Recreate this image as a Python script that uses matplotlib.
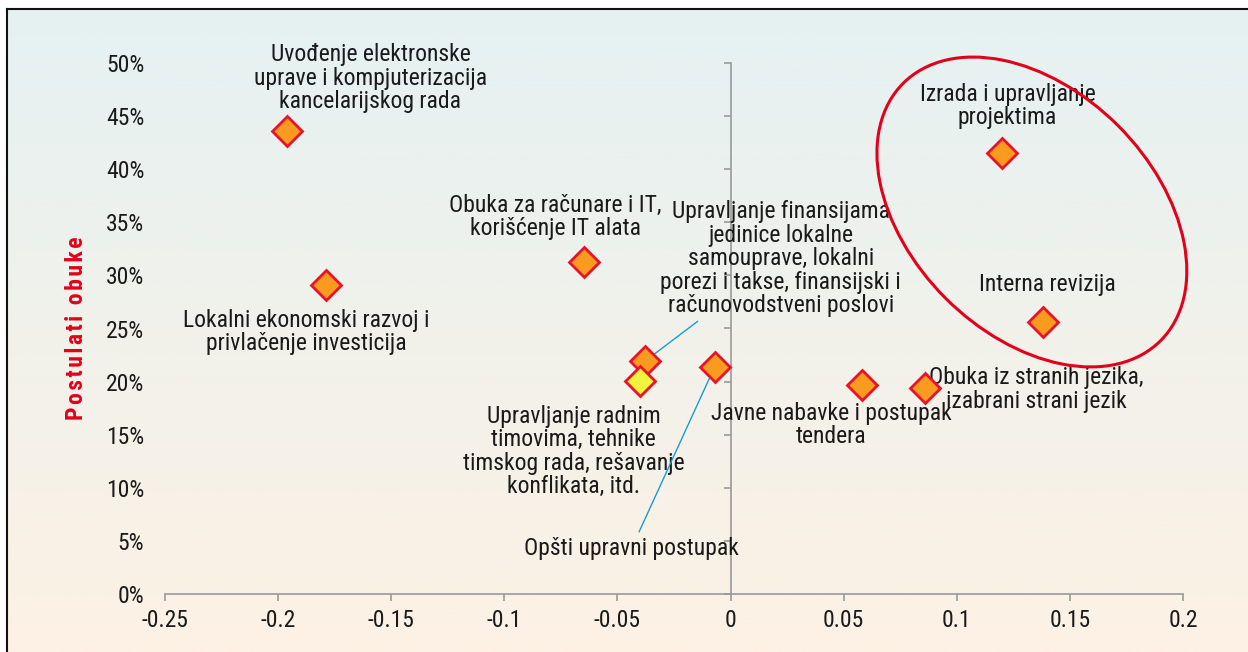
import numpy as np
import matplotlib
matplotlib.use("Agg")
import matplotlib.pyplot as plt
from matplotlib import font_manager, transforms
from matplotlib.patches import Ellipse

# -----------------------------
# Data
# -----------------------------
labels = [
    "Uvođenje elektronske\nuprave i kompjuterizacija\nkancelarijskog rada",
    "Lokalni ekonomski razvoj i\nprivlačenje investicija",
    "Obuka za računare i IT,\nkorišćenje IT alata",
    "Upravljanje finansijama\njedinice lokalne\nsamouprave, lokalni\nporezi i takse, finansijski i\nračunovodstveni poslovi",
    "Upravljanje radnim\ntimovima, tehnike\ntimskog rada, rešavanje\nkonflikata, itd.",
    "Opšti upravni postupak",
    "Javne nabavke i postupak\ntendera",
    "Obuka iz stranih jezika,\nizabrani strani jezik",
    "Izrada i upravljanje\nprojektima",
    "Interna revizija",
]
x_vals = [-0.196, -0.179, -0.065, -0.038, -0.040, -0.007, 0.058, 0.086, 0.120, 0.138]
y_vals = [0.436, 0.291, 0.313, 0.219, 0.201, 0.214, 0.197, 0.194, 0.415, 0.256]
highlight = 4  # yellow marker

x_ticks = [-0.25, -0.2, -0.15, -0.1, -0.05, 0, 0.05, 0.1, 0.15, 0.2]
x_tick_labels = ["-0.25", "-0.2", "-0.15", "-0.1", "-0.05", "0", "0.05", "0.1", "0.15", "0.2"]
y_ticks = [0, 0.05, 0.1, 0.15, 0.2, 0.25, 0.3, 0.35, 0.4, 0.45, 0.5]
y_tick_labels = ["0%", "5%", "10%", "15%", "20%", "25%", "30%", "35%", "40%", "45%", "50%"]

# label offsets (points) and which labels get a leader line
label_offsets = [(60, 38), (-14, -34), (-20, 32), (98, 74), (-48, -51),
                 (-60, -131), (-22, -29), (80, -1), (4, 34), (3, 27)]
leaders = {3, 5}

# -----------------------------
# Fonts
# -----------------------------
names = {f.name for f in font_manager.fontManager.ttflist}
stretch = "normal"
family = "DejaVu Sans"
for cand in ["Liberation Sans Narrow", "Roboto Condensed", "Open Sans Condensed"]:
    if cand in names:
        family = cand
        break
else:
    if any(f.name == "DejaVu Sans" and f.stretch == "condensed" for f in font_manager.fontManager.ttflist):
        stretch = "condensed"
plt.rcParams["font.family"] = [family, "DejaVu Sans"]
plt.rcParams["font.stretch"] = stretch

TXT = "#1a1a1a"
RED = "#e8132a"
ORANGE = "#f99b1f"
YELLOW = "#eef53c"
BLUE = "#1a9ad6"
AXIS = "#9a9a9a"

fig = plt.figure(figsize=(12.48, 6.52), dpi=100)

# background gradient with frame
bg = fig.add_axes([7 / 1248, 0, 1 - 7 / 1248, (652 - 9) / 652], zorder=-1)
top = np.array([0xe5, 0xf1, 0xf2]) / 255
bot = np.array([0xfd, 0xf1, 0xe4]) / 255
t = np.linspace(0, 1, 256)[:, None]
grad = top[None, :] * (1 - t) + bot[None, :] * t
bg.imshow(grad[:, None, :], aspect="auto", extent=[0, 1, 0, 1])
bg.set_xticks([])
bg.set_yticks([])
for s in ["right", "bottom"]:
    bg.spines[s].set_visible(False)
for s in ["left", "top"]:
    bg.spines[s].set_color("#111111")
    bg.spines[s].set_linewidth(1.5)

ax = fig.add_axes([165 / 1248, (652 - 594) / 652, (1183 - 165) / 1248, (594 - 63) / 652])
ax.set_facecolor("none")
ax.set_xlim(-0.25, 0.2)
ax.set_ylim(0, 0.5)

for s in ["top", "right", "left"]:
    ax.spines[s].set_visible(False)
ax.spines["bottom"].set_color(AXIS)
ax.spines["bottom"].set_linewidth(1.2)

ax.set_xticks(x_ticks)
ax.set_xticklabels(x_tick_labels)
ax.set_yticks(y_ticks)
ax.set_yticklabels(y_tick_labels)
ax.tick_params(axis="x", direction="out", length=5, width=1.2, color=AXIS,
               labelsize=17, labelcolor=TXT, pad=6)
ax.tick_params(axis="y", length=0, labelsize=17, labelcolor=TXT, pad=15)

# vertical axis crossing at x = 0, ticks pointing left
xlo, xhi = ax.get_xlim()
sec = ax.secondary_yaxis((0 - xlo) / (xhi - xlo))
sec.set_yticks(y_ticks)
sec.set_yticklabels([])
for s in ["left", "right"]:
    sec.spines[s].set_color(AXIS)
    sec.spines[s].set_linewidth(1.2)
sec.tick_params(direction="in", length=5, width=1.2, color=AXIS)

# letter-spaced axis title
ytitle = "\u200a".join("Postulati obuke")
ax.set_ylabel(ytitle, color="#e2001a", fontsize=17, fontweight="bold", labelpad=13)

# markers
for i, (x, y) in enumerate(zip(x_vals, y_vals)):
    if i == highlight:
        continue
    ax.plot(x, y, marker="D", markersize=15, markerfacecolor=ORANGE,
            markeredgecolor=RED, markeredgewidth=2, linestyle="none",
            zorder=4, clip_on=False)
ax.plot(x_vals[highlight], y_vals[highlight], marker="D", markersize=15,
        markerfacecolor=YELLOW, markeredgecolor=RED, markeredgewidth=2,
        linestyle="none", zorder=5, clip_on=False)

# labels
for i, (lab, x, y) in enumerate(zip(labels, x_vals, y_vals)):
    arrow = None
    if i in leaders:
        arrow = dict(arrowstyle="-", color=BLUE, lw=1.0, shrinkA=2, shrinkB=8)
    ax.annotate(lab, (x, y), xytext=label_offsets[i], textcoords="offset points",
                ha="center", va="center", fontsize=17, color=TXT,
                linespacing=1.02, arrowprops=arrow, zorder=3, annotation_clip=False)

# highlight ellipse (drawn in inches around a data-space centre)
trans = fig.dpi_scale_trans + transforms.ScaledTranslation(0.1332, 0.3597, ax.transData)
ell = Ellipse((0, 0), width=3.64, height=2.44, angle=-45, fill=False,
              edgecolor="#e2001a", linewidth=2.2, transform=trans, zorder=6, clip_on=False)
ax.add_patch(ell)

fig.savefig("out.png", dpi=100)
